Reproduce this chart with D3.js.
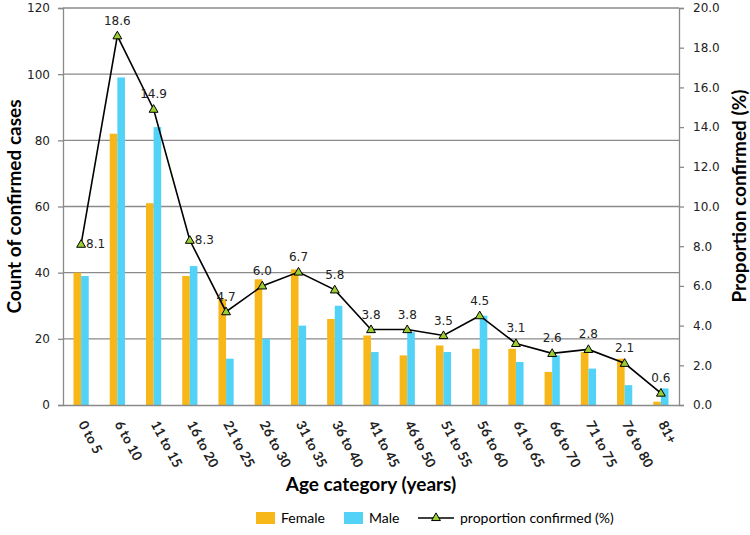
<!DOCTYPE html>
<html><head><meta charset="utf-8">
<script src="https://cdn.jsdelivr.net/npm/d3@7"></script>
<style>body{margin:0;background:#fff}svg{display:block}</style>
</head><body>
<svg id="chart" width="750" height="535"></svg>
<script>
const categories = ["0 to 5","6 to 10","11 to 15","16 to 20","21 to 25","26 to 30","31 to 35","36 to 40","41 to 45","46 to 50","51 to 55","56 to 60","61 to 65","66 to 70","71 to 75","76 to 80","81+"];
const female = [40,82,61,39,32,38,41,26,21,15,18,17,17,10,16,14,1];
const male = [39,99,84,42,14,20,24,30,16,22,16,27,13,15,11,6,5];
const proportion = [8.1,18.6,14.9,8.3,4.7,6.0,6.7,5.8,3.8,3.8,3.5,4.5,3.1,2.6,2.8,2.1,0.6];
const leftTicks = [0,20,40,60,80,100,120];
const rightTicks = [0,2,4,6,8,10,12,14,16,18,20];
const labelsRight = ["0 to 5","16 to 20"];

const svg = d3.select("#chart");
const L = 63, R = 679, T = 8, B = 405;
const x = d3.scaleBand().domain(categories).range([L, R]).padding(0);
const yL = d3.scaleLinear().domain([0,120]).range([B, T]);
const yR = d3.scaleLinear().domain([0,20]).range([B, T]);
const gridCol = "#8a8a8a";
const fCol = "#F7B719", mCol = "#52D2F7";
const tickFont = "DejaVu Sans, Verdana, sans-serif";
const boldFont = "Lato, 'Open Sans', sans-serif";

// gridlines
svg.append("g").selectAll("line").data(leftTicks.filter(d=>d>0)).join("line")
  .attr("x1", L).attr("x2", R).attr("y1", d=>yL(d)).attr("y2", d=>yL(d))
  .attr("stroke", gridCol).attr("stroke-width", 1.3);

// bars
const bw = x.bandwidth()*0.21;
svg.append("g").selectAll("rect").data(categories).join("rect")
  .attr("x", d=>x(d)+x.bandwidth()/2-bw).attr("width", bw)
  .attr("y", (d,i)=>yL(female[i])).attr("height", (d,i)=>B-yL(female[i]))
  .attr("fill", fCol);
svg.append("g").selectAll("rect").data(categories).join("rect")
  .attr("x", d=>x(d)+x.bandwidth()/2).attr("width", bw)
  .attr("y", (d,i)=>yL(male[i])).attr("height", (d,i)=>B-yL(male[i]))
  .attr("fill", mCol);

// axes
const axL = svg.append("g").attr("transform", `translate(${L},0)`)
  .call(d3.axisLeft(yL).tickValues(leftTicks).tickSize(5).tickPadding(8));
const axR = svg.append("g").attr("transform", `translate(${R},0)`)
  .call(d3.axisRight(yR).tickValues(rightTicks).tickSize(5).tickPadding(9).tickFormat(d3.format(".1f")));
const axB = svg.append("g").attr("transform", `translate(0,${B})`)
  .call(d3.axisBottom(x).tickSize(0).tickPadding(0));
[axL, axR, axB].forEach(g=>{
  g.selectAll("path.domain").attr("stroke", gridCol).attr("stroke-width", 1.3);
  g.selectAll(".tick line").attr("stroke", gridCol).attr("stroke-width", 1.3);
  g.selectAll("text").attr("fill", "#222").style("font-family", tickFont).style("font-size", "12px");
});
axB.selectAll(".tick text")
  .style("font-family", boldFont).style("font-weight", "bold").style("font-size", "13.5px")
  .attr("text-anchor", "start").attr("dy", null).attr("y", 0)
  .attr("transform", "translate(-3,19) rotate(62)");

// line
const line = d3.line().x((d,i)=>x(categories[i])+x.bandwidth()/2).y(d=>yR(d));
svg.append("path").datum(proportion).attr("d", line)
  .attr("fill","none").attr("stroke","#000").attr("stroke-width",1.6);
const tri = d3.symbol().type(d3.symbolTriangle).size(34);
svg.append("g").selectAll("path").data(proportion).join("path")
  .attr("d", tri)
  .attr("transform", (d,i)=>`translate(${x(categories[i])+x.bandwidth()/2},${yR(d)+0.5})`)
  .attr("fill", "#9ACD32").attr("stroke", "#000").attr("stroke-width", 1);
svg.append("g").selectAll("text").data(proportion).join("text")
  .attr("x", (d,i)=>x(categories[i])+x.bandwidth()/2 + (labelsRight.includes(categories[i]) ? 5 : 0))
  .attr("y", (d,i)=>yR(d) + (labelsRight.includes(categories[i]) ? 4 : -11))
  .attr("text-anchor", (d,i)=>labelsRight.includes(categories[i]) ? "start" : "middle")
  .style("font-family", tickFont).style("font-size", "12px").attr("fill", "#222")
  .text(d=>d3.format(".1f")(d));

// axis titles
svg.append("text").attr("transform", `translate(21,${(T+B)/2}) rotate(-90)`)
  .attr("text-anchor","middle").style("font-family", boldFont).style("font-weight","bold").style("font-size","19px")
  .text("Count of confirmed cases");
svg.append("text").attr("transform", `translate(746,196) rotate(-90)`)
  .attr("text-anchor","middle").style("font-family", boldFont).style("font-weight","bold").style("font-size","19px")
  .text("Proportion confirmed (%)");
svg.append("text").attr("x", 371).attr("y", 491)
  .attr("text-anchor","middle").style("font-family", boldFont).style("font-weight","bold").style("font-size","19px")
  .text("Age category (years)");

// legend
const lg = svg.append("g").style("font-family", boldFont).style("font-size","14px");
const legendItems = ["Female","Male","proportion confirmed (%)"];
const lx = [256, 344, 418];
const ly = 518;
lg.append("rect").attr("x", lx[0]).attr("y", ly-6).attr("width", 19).attr("height", 12).attr("fill", fCol);
lg.append("text").attr("x", lx[0]+25).attr("y", ly+5).text(legendItems[0]);
lg.append("rect").attr("x", lx[1]).attr("y", ly-6).attr("width", 19).attr("height", 12).attr("fill", mCol);
lg.append("text").attr("x", lx[1]+25).attr("y", ly+5).text(legendItems[1]);
lg.append("line").attr("x1", lx[2]).attr("x2", lx[2]+36).attr("y1", ly).attr("y2", ly).attr("stroke","#000").attr("stroke-width",1.6);
lg.append("path").attr("d", tri).attr("transform", `translate(${lx[2]+18},${ly})`).attr("fill","#9ACD32").attr("stroke","#000");
lg.append("text").attr("x", lx[2]+42).attr("y", ly+5).text(legendItems[2]);
</script>
</body></html>
